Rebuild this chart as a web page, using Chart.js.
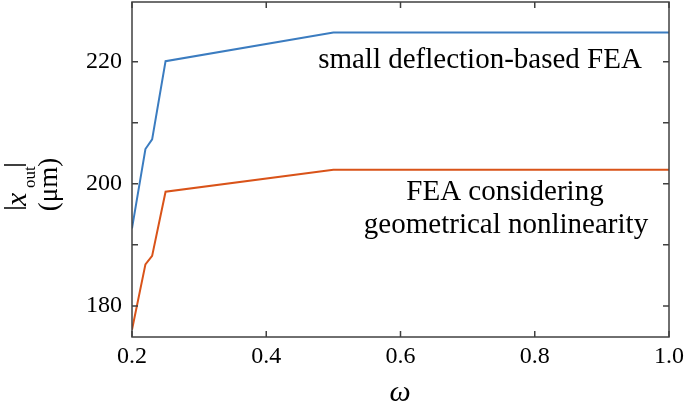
<!DOCTYPE html>
<html>
<head>
<meta charset="utf-8">
<script src="https://cdn.jsdelivr.net/npm/chart.js@4"></script>
<style>
  html, body { margin: 0; padding: 0; background: #fff; }
  #wrap { width: 685px; height: 410px; }
</style>
</head>
<body>
<div id="wrap"><canvas id="chart" width="685" height="410"></canvas></div>
<script>
const omega = [0.2, 0.22, 0.23, 0.25, 0.5, 1.0];
const smallDeflection = [192.7, 205.7, 207.3, 220.1, 224.8, 224.8];
const nonlinearFEA = [176.1, 186.8, 188.2, 198.7, 202.3, 202.3];
const xTicks = [0.2, 0.4, 0.6, 0.8, 1.0];
const yTicks = [180, 190, 200, 210, 220];
const yLabelled = [180, 200, 220];

const serif = "'Liberation Serif', 'Times New Roman', serif";
const axisColor = '#404040';

// box round the plot with inward ticks on all four sides, plus the axis titles
const boxPlugin = {
  id: 'box',
  afterDatasetsDraw(chart) {
    const { ctx, chartArea: a, scales } = chart;
    const len = 6;
    ctx.save();
    ctx.strokeStyle = axisColor;
    ctx.lineWidth = 1.5;
    ctx.strokeRect(a.left, a.top, a.right - a.left, a.bottom - a.top);
    ctx.beginPath();
    xTicks.forEach(v => {
      const x = scales.x.getPixelForValue(v);
      ctx.moveTo(x, a.bottom); ctx.lineTo(x, a.bottom - len);
      ctx.moveTo(x, a.top); ctx.lineTo(x, a.top + len);
    });
    yTicks.forEach(v => {
      const y = scales.y.getPixelForValue(v);
      ctx.moveTo(a.left, y); ctx.lineTo(a.left + len, y);
      ctx.moveTo(a.right, y); ctx.lineTo(a.right - len, y);
    });
    ctx.stroke();

    // annotations
    ctx.fillStyle = '#000';
    ctx.textAlign = 'center';
    ctx.textBaseline = 'alphabetic';
    ctx.font = '29px ' + serif;
    ctx.fillText('small deflection-based FEA', 480, 68);
    ctx.fillText('FEA considering', 505, 200);
    ctx.fillText('geometrical nonlinearity', 506, 233);

    // x title
    ctx.font = 'italic 30px ' + serif;
    ctx.fillText('\u03c9', 400, 401);

    // y title, rotated
    ctx.strokeStyle = '#000';
    ctx.lineWidth = 1.3;
    ctx.beginPath();
    ctx.moveTo(4, 165); ctx.lineTo(26, 165);
    ctx.moveTo(4, 208); ctx.lineTo(26, 208);
    ctx.stroke();
    ctx.rotate(-Math.PI / 2);
    ctx.textAlign = 'left';
    ctx.font = 'italic 30px ' + serif;
    ctx.fillText('x', -206, 26);
    ctx.font = '17px ' + serif;
    ctx.fillText('out', -188, 35);
    ctx.textAlign = 'center';
    ctx.font = '27px ' + serif;
    ctx.fillText('(\u03bcm)', -184.5, 57);
    ctx.restore();
  }
};

new Chart(document.getElementById('chart').getContext('2d'), {
  type: 'line',
  data: {
    datasets: [
      {
        label: 'small deflection-based FEA',
        data: omega.map((w, i) => ({ x: w, y: smallDeflection[i] })),
        borderColor: '#3B7CC0',
        borderWidth: 2,
        pointRadius: 0,
        tension: 0
      },
      {
        label: 'FEA considering geometrical nonlinearity',
        data: omega.map((w, i) => ({ x: w, y: nonlinearFEA[i] })),
        borderColor: '#D95319',
        borderWidth: 2,
        pointRadius: 0,
        tension: 0
      }
    ]
  },
  options: {
    responsive: false,
    animation: false,
    layout: { padding: { top: 2, right: 16, left: 0, bottom: 0 } },
    plugins: {
      legend: { display: false },
      tooltip: { enabled: false }
    },
    scales: {
      x: {
        type: 'linear',
        min: 0.2,
        max: 1.0,
        grid: { display: false, drawTicks: false },
        border: { display: false },
        afterBuildTicks: s => { s.ticks = xTicks.map(v => ({ value: v })); },
        afterFit: s => { s.height = 73; s.paddingLeft = 0; s.paddingRight = 0; },
        ticks: {
          padding: 5,
          color: '#000',
          font: { family: serif, size: 24 },
          maxRotation: 0,
          callback: v => v.toFixed(1)
        }
      },
      y: {
        type: 'linear',
        min: 174.9,
        max: 229.8,
        grid: { display: false, drawTicks: false },
        border: { display: false },
        afterBuildTicks: s => { s.ticks = yTicks.map(v => ({ value: v })); },
        afterFit: s => { s.width = 132; s.paddingTop = 0; s.paddingBottom = 0; },
        ticks: {
          padding: 10,
          color: '#000',
          font: { family: serif, size: 24 },
          callback: v => yLabelled.includes(v) ? String(v) : ''
        }
      }
    }
  },
  plugins: [boxPlugin]
});
</script>
</body>
</html>
